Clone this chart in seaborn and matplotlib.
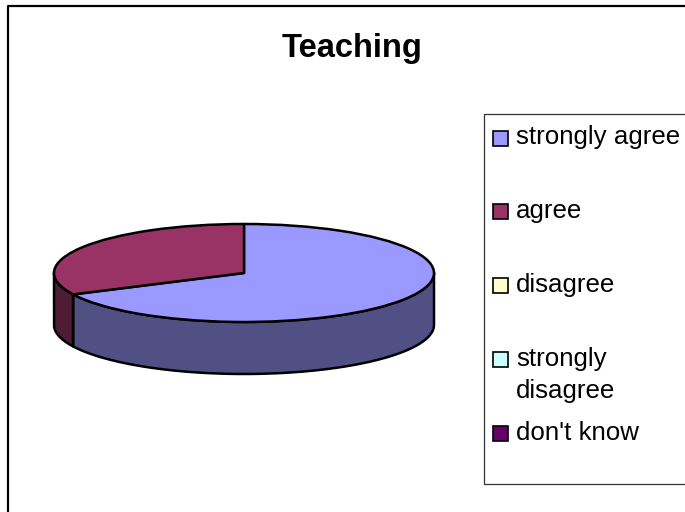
import numpy as np
import matplotlib
matplotlib.use("Agg")
import matplotlib.pyplot as plt
import seaborn as sns
from matplotlib.patches import Rectangle

# values (percent of responses)
categories = ["strongly agree", "agree", "disagree", "strongly\ndisagree", "don't know"]
values = [67.8, 32.2, 0, 0, 0]
colors = ["#9999FF", "#993366", "#FFFFCC", "#CCFFFF", "#660066"]
title = "Teaching"

W, H = 685, 512
PIE_LEFT, PIE_RIGHT = 54, 434
PIE_TOP, PIE_MID = 224, 273
DEPTH_PX = 52
LINE = 1.8

sns.set_theme(style="white")
plt.rcParams["font.family"] = ["Liberation Sans", "DejaVu Sans"]

fig = plt.figure(figsize=(W / 100, H / 100), dpi=100, facecolor="white")

# overlay in pixel coordinates for frame, title and legend
over = fig.add_axes([0, 0, 1, 1], zorder=3)
over.set_xlim(0, W)
over.set_ylim(H, 0)
over.axis("off")
over.plot([8, 8, W + 5], [H + 5, 6, 6], color="black", lw=1.6, clip_on=False)
over.text(352.5, 48.5, title, ha="center", va="center", fontsize=23.5, fontweight="bold", color="black")

# legend box, right side runs off the picture
over.add_patch(Rectangle((484, 114), 220, 370, fc="none", ec="#333333", lw=0.9))
square_y = [138, 211.5, 285.5, 359.5, 433.5]
text_y = [[144], [218], [292], [366, 398], [440]]
for cat, col, sy, ty in zip(categories, colors, square_y, text_y):
    over.add_patch(Rectangle((493.5, sy - 7.5), 15, 15, fc=col, ec="black", lw=1.2))
    for line, y in zip(cat.split("\n"), ty):
        over.text(516, y, line, ha="left", va="baseline", fontsize=18.6, color="black")

# pie squashed into an ellipse by letting the axes aspect go free
rx = (PIE_RIGHT - PIE_LEFT) / 2
ry = PIE_MID - PIE_TOP
bottom_px = PIE_MID + ry + DEPTH_PX
ax = fig.add_axes([PIE_LEFT / W, 1 - bottom_px / H, 2 * rx / W, (bottom_px - PIE_TOP) / H], zorder=2)
shown = [v > 0 for v in values]
ax.pie(
    [v for v, s in zip(values, shown) if s],
    colors=[c for c, s in zip(colors, shown) if s],
    startangle=90,
    counterclock=False,
    radius=1,
    wedgeprops={"edgecolor": "black", "linewidth": LINE, "zorder": 3, "joinstyle": "round"},
)
ax.set_aspect("auto")
ax.set_xlim(-1, 1)
depth = DEPTH_PX / ry
ax.set_ylim(1 - (bottom_px - PIE_TOP) / ry, 1)
ax.axis("off")

# side wall: only the front half of the rim shows
edges = np.concatenate([[0], np.cumsum(values)]) / sum(values) * 360
for start, end, col in zip(edges[:-1], edges[1:], colors):
    a, b = max(start, 90), min(end, 270)
    if b <= a:
        continue
    t = np.radians(np.linspace(a, b, 120))
    x, y = np.sin(t), np.cos(t)
    dark = tuple(np.array(matplotlib.colors.to_rgb(col)) * 0.52)
    ax.fill_between(x, y, y - depth, color=dark, zorder=1, lw=0)
    xs = np.concatenate([x, x[::-1], x[:1]])
    ys = np.concatenate([y, (y - depth)[::-1], y[:1]])
    ax.plot(xs, ys, color="black", lw=LINE, zorder=2, clip_on=False, solid_joinstyle="round")
for w in ax.patches:
    w.set_clip_on(False)

fig.savefig("out.png", dpi=100)
